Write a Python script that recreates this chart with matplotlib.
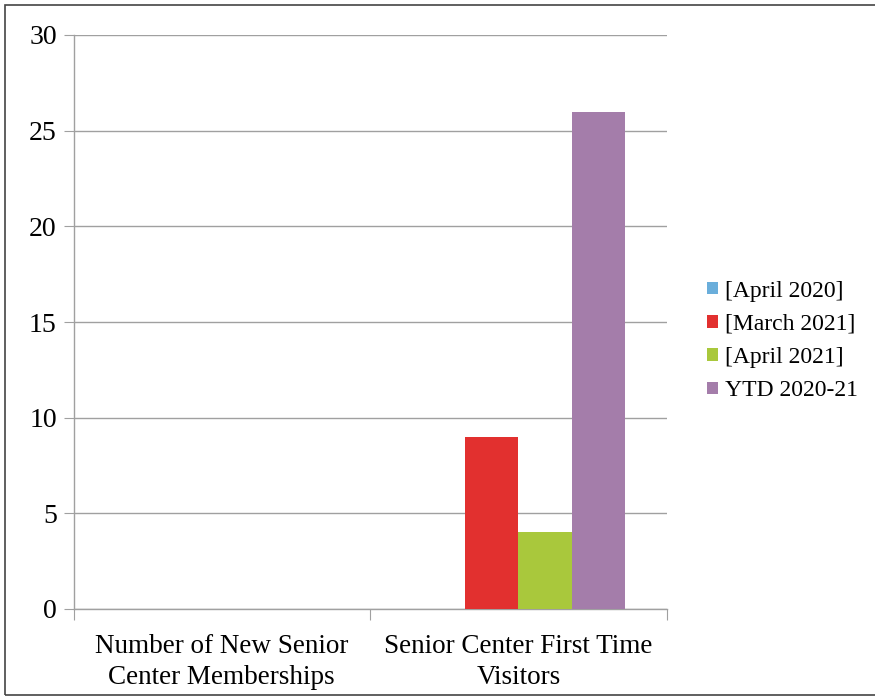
import matplotlib
matplotlib.use("Agg")
import matplotlib.pyplot as plt
import numpy as np
from matplotlib.patches import Rectangle

categories = ["Number of New Senior\nCenter Memberships",
              "Senior Center First Time\nVisitors"]
series_names = ["[April 2020]", "[March 2021]", "[April 2021]", "YTD 2020-21"]
april_2020 = [0, 0]
march_2021 = [0, 9]
april_2021 = [0, 4]
ytd_2020_21 = [0, 26]
colors = ["#6AAEDB", "#E2302F", "#A9C83C", "#A47DAA"]

plt.rcParams['font.family'] = ['Liberation Serif', 'DejaVu Serif']

fig = plt.figure(figsize=(8.75, 7), dpi=100)
ax = fig.add_axes([0.084, 0.13, 0.678, 0.82])

x = np.arange(len(categories))
width = 0.18
values = [april_2020, march_2021, april_2021, ytd_2020_21]
for i, (name, vals, col) in enumerate(zip(series_names, values, colors)):
    ax.bar(x + (i - 1.5) * width, vals, width, color=col, label=name, zorder=3)

ax.set_xlim(-0.5, 1.5)
ax.set_ylim(0, 30)
ax.set_yticks(range(0, 31, 5))
ax.yaxis.grid(True, color="#A0A0A0", linewidth=1.0, zorder=0)

# category labels centred, ticks at the category boundaries
ax.set_xticks([-0.5, 0.5, 1.5])
ax.set_xticklabels([])
ax.set_xticks(x, minor=True)
ax.set_xticklabels(categories, minor=True, fontsize=19.5, linespacing=1.3)
ax.tick_params(axis="x", which="minor", length=0, pad=18)
ax.tick_params(axis="x", which="major", length=8, color="#A0A0A0")
ax.tick_params(axis="y", length=7, color="#A0A0A0", labelsize=20, pad=5)

for side in ["top", "right"]:
    ax.spines[side].set_visible(False)
for side in ["left", "bottom"]:
    ax.spines[side].set_color("#A0A0A0")
    ax.spines[side].set_linewidth(1.0)

ax.legend(loc="center left", bbox_to_anchor=(1.0, 0.467), frameon=False,
          fontsize=17, handlelength=0.45, handleheight=0.45,
          handletextpad=0.3, labelspacing=0.52, borderaxespad=1.3)

# outer border of the chart area
fig.patches.append(Rectangle((5 / 875, 5 / 700), 1.2, 690 / 700,
                             transform=fig.transFigure, fill=False,
                             edgecolor="#444444", linewidth=1.2,
                             clip_on=False))

fig.savefig("out.png", dpi=100)
